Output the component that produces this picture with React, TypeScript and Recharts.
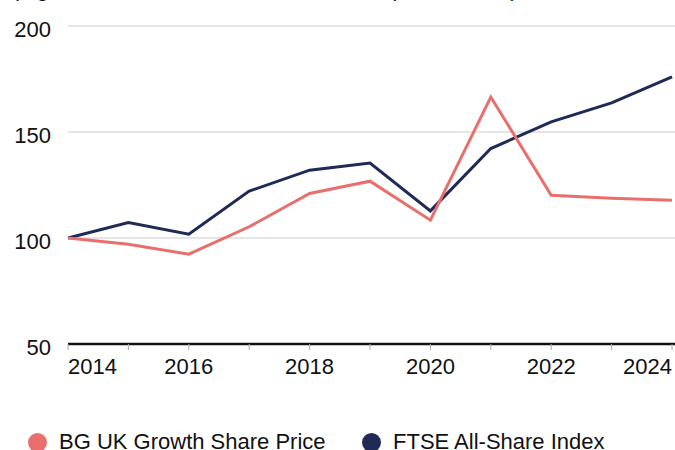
import React from 'react';
import { LineChart, Line, XAxis, YAxis, CartesianGrid } from 'recharts';

const years = [2014, 2015, 2016, 2017, 2018, 2019, 2020, 2021, 2022, 2023, 2024];
const bgGrowth = [100, 97.1, 92.4, 105.3, 121.0, 126.8, 108.4, 166.5, 120.2, 118.7, 117.8];
const ftseAllShare = [100, 107.3, 101.8, 122.1, 132.0, 135.4, 112.8, 142.2, 154.8, 163.7, 176.0];
const yTicks = [50, 100, 150, 200];
const labelYears = [2014, 2016, 2018, 2020, 2022, 2024];

const RED = '#e96f6c';
const NAVY = '#1f2a57';
const FONT = '"Liberation Sans", Arial, sans-serif';

const data = years.map((year, i) => ({
  year,
  bg: bgGrowth[i],
  ftse: ftseAllShare[i],
}));

const YTick = ({ y, payload }: any) => (
  <text x={51} y={y + 11} textAnchor="end" fontSize={22} fill="#111" fontFamily={FONT}>
    {payload.value}
  </text>
);

const XTick = ({ x, y, payload }: any) => {
  if (!labelYears.includes(payload.value)) return null;
  const first = payload.value === years[0];
  const last = payload.value === years[years.length - 1];
  const anchor = first ? 'start' : last ? 'end' : 'middle';
  return (
    <text x={x} y={y + 22} textAnchor={anchor} fontSize={22} fill="#111" fontFamily={FONT}>
      {payload.value}
    </text>
  );
};

const legendItems = [
  { name: 'BG UK Growth Share Price', color: RED, left: 28 },
  { name: 'FTSE All-Share Index', color: NAVY, left: 362 },
];

export default function App() {
  return (
    <div
      style={{
        position: 'absolute',
        left: 0,
        top: 0,
        width: 675,
        height: 450,
        overflow: 'hidden',
        background: '#fff',
        fontFamily: FONT,
      }}
    >
      <div
        style={{
          position: 'absolute',
          left: 12,
          top: -21,
          fontSize: 21,
          lineHeight: '22px',
          color: '#111',
          whiteSpace: 'nowrap',
        }}
      >
        (Figures rebased to 100 to show relative performance)
      </div>
      <LineChart width={675} height={450} data={data} margin={{ top: 26, right: 0, bottom: 0, left: 0 }}>
        <CartesianGrid vertical={false} stroke="#dcdcdc" strokeWidth={1.5} />
        <XAxis
          dataKey="year"
          type="number"
          domain={[2014, 2024]}
          ticks={years}
          interval={0}
          padding={{ left: 0, right: 3 }}
          height={106}
          axisLine={{ stroke: '#111', strokeWidth: 2.5 }}
          tickLine={{ stroke: '#aaa' }}
          tickSize={6}
          tick={<XTick />}
        />
        <YAxis
          domain={[50, 200]}
          ticks={yTicks}
          width={68}
          axisLine={false}
          tickLine={false}
          tick={<YTick />}
        />
        <Line type="linear" dataKey="ftse" stroke={NAVY} strokeWidth={3} dot={false} isAnimationActive={false} />
        <Line type="linear" dataKey="bg" stroke={RED} strokeWidth={3} dot={false} isAnimationActive={false} />
      </LineChart>
      {legendItems.map((item) => (
        <div
          key={item.name}
          style={{
            position: 'absolute',
            left: item.left,
            top: 431,
            display: 'flex',
            alignItems: 'center',
            gap: 12,
            fontSize: 22,
            lineHeight: '22px',
            color: '#111',
            whiteSpace: 'nowrap',
          }}
        >
          <span
            style={{
              display: 'inline-block',
              width: 19,
              height: 19,
              borderRadius: '50%',
              background: item.color,
            }}
          />
          <span>{item.name}</span>
        </div>
      ))}
    </div>
  );
}
